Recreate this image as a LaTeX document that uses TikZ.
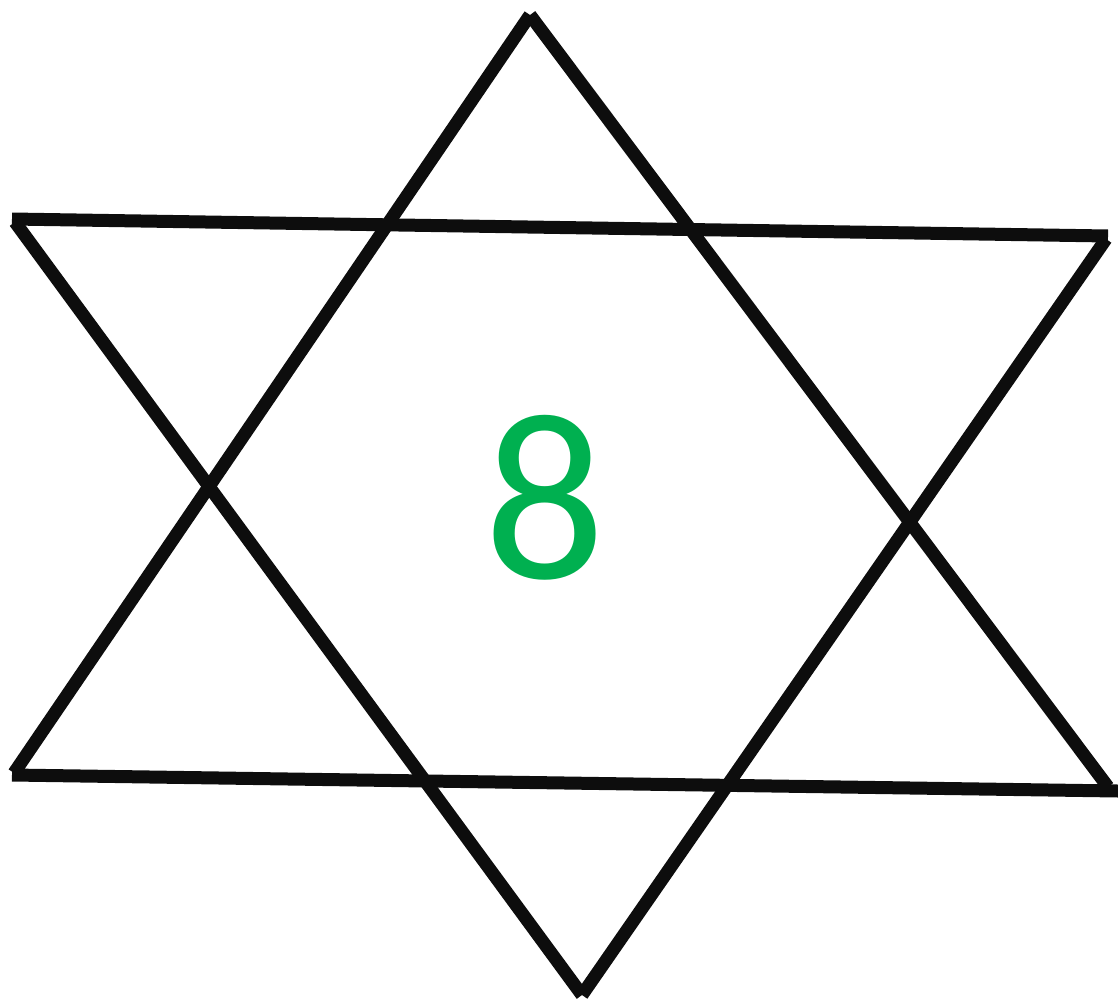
\documentclass[tikz,border=0pt]{standalone}
\usepackage{fontspec}
\setmainfont{Carlito}
\definecolor{starline}{RGB}{13,13,13}
\definecolor{numgreen}{RGB}{0,176,80}
\begin{document}
\begin{tikzpicture}[x=0.02cm,y=-0.02cm,
  side/.style={draw=starline,line width=0.26cm,line cap=butt},
  num/.style={text=numgreen,font=\fontsize{136}{146}\selectfont,inner sep=0pt}]
\useasboundingbox (0,0) rectangle (1118,1007);
% upward triangle
\coordinate (A) at (530,15);
\coordinate (B) at (14,773);
\coordinate (B2) at (12,775);
\coordinate (C) at (1108,787);
\coordinate (C2) at (1118,791);
% downward triangle
\coordinate (D) at (12,219);
\coordinate (D2) at (15,222);
\coordinate (E) at (1108,236);
\coordinate (E2) at (1106,239);
\coordinate (F) at (582,995);
\draw[side] (A) -- (B);
\draw[side] (A) -- (C);
\draw[side] (B2) -- (C2);
\draw[side] (D) -- (E);
\draw[side] (D2) -- (F);
\draw[side] (E2) -- (F);
\node[num] (n8) at (545,498) {8};
\end{tikzpicture}
\end{document}
